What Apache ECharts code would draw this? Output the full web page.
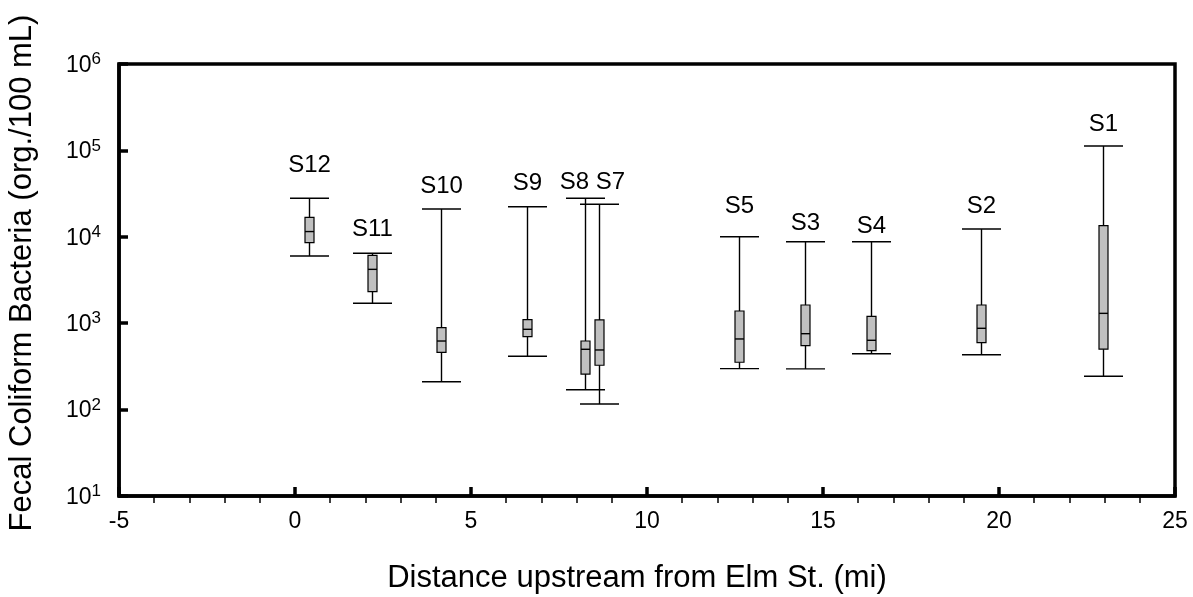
<!DOCTYPE html>
<html>
<head>
<meta charset="utf-8">
<title>Fecal Coliform Bacteria by Station</title>
<script src="https://cdn.jsdelivr.net/npm/echarts@6/dist/echarts.min.js"></script>
<style>
  html, body { margin: 0; padding: 0; background: #fff; }
  #chart { width: 1193px; height: 597px; }
</style>
</head>
<body>
<div id="chart"></div>
<script>
// Sampling stations along the stream, ordered by distance upstream
const stations    = ['S12', 'S11', 'S10', 'S9', 'S8', 'S7', 'S5', 'S3', 'S4', 'S2', 'S1'];
const distanceMi  = [0.4, 2.2, 4.15, 6.6, 8.25, 8.65, 12.6, 14.5, 16.35, 19.5, 22.95];

// Box-plot statistics, org./100 mL
const whiskerLow  = [6000, 1700, 210, 415, 170, 116, 298, 296, 443, 432, 243];
const quartile1   = [8550, 2320, 460, 700, 258, 326, 353, 549, 481, 595, 500];
const median      = [11500, 4200, 622, 850, 499, 490, 657, 756, 634, 873, 1300];
const quartile3   = [16800, 6100, 887, 1100, 622, 1090, 1384, 1625, 1202, 1625, 13450];
const whiskerHigh = [27900, 6440, 21000, 22300, 27900, 23800, 10000, 8780, 8780, 12300, 112500];

// Axis tick values
const xMajorTicks = [-5, 0, 5, 10, 15, 20, 25];
const yTicks      = [10, 100, 1000, 10000, 100000, 1000000];

// Hand placement of station labels relative to the top whisker cap (px)
const labelNudge = {
  S12: [0, -11], S11: [0, -2], S10: [0, -1], S9: [0, -1], S8: [-11, 6], S7: [11, 0],
  S5: [0, -8], S3: [0, 4], S4: [0, 7], S2: [0, -1], S1: [0, 0]
};

const FONT = '"Liberation Sans", Arial, Helvetica, sans-serif';

const boxData = stations.map((s, i) => [
  distanceMi[i], whiskerLow[i], quartile1[i], median[i], quartile3[i], whiskerHigh[i]
]);

const xMinorTicks = [];
for (let v = xMajorTicks[0]; v <= xMajorTicks[xMajorTicks.length - 1]; v++) {
  if (xMajorTicks.indexOf(v) < 0) xMinorTicks.push(v);
}

function renderBox(params, api) {
  const x = api.value(0);
  const pLow = api.coord([x, api.value(1)]);
  const pQ1  = api.coord([x, api.value(2)]);
  const pMed = api.coord([x, api.value(3)]);
  const pQ3  = api.coord([x, api.value(4)]);
  const pHi  = api.coord([x, api.value(5)]);
  const cx = Math.round(pHi[0]) + 0.5;
  const capHalf = 19.5;
  const boxHalf = 4.5;
  const line = { stroke: '#000', lineWidth: 1.4 };
  const name = stations[params.dataIndex];
  const nudge = labelNudge[name] || [0, 0];
  return {
    type: 'group',
    children: [
      { type: 'line', shape: { x1: cx, y1: pHi[1], x2: cx, y2: pLow[1] }, style: line },
      { type: 'line', shape: { x1: cx - capHalf, y1: pHi[1], x2: cx + capHalf, y2: pHi[1] }, style: line },
      { type: 'line', shape: { x1: cx - capHalf, y1: pLow[1], x2: cx + capHalf, y2: pLow[1] }, style: line },
      { type: 'rect',
        shape: { x: cx - boxHalf, y: pQ3[1], width: boxHalf * 2, height: pQ1[1] - pQ3[1] },
        style: { fill: '#c0c0c0', stroke: '#000', lineWidth: 1.2 } },
      { type: 'line', shape: { x1: cx - boxHalf, y1: pMed[1], x2: cx + boxHalf, y2: pMed[1] }, style: line },
      { type: 'text',
        x: cx + nudge[0], y: pHi[1] - 10 + nudge[1],
        style: { text: name, fill: '#000', font: '24px ' + FONT, textAlign: 'center', textVerticalAlign: 'bottom' } }
    ]
  };
}

const chart = echarts.init(document.getElementById('chart'), null, { renderer: 'canvas' });

chart.setOption({
  backgroundColor: '#fff',
  animation: false,
  grid: {
    left: 119, right: 18, top: 64, bottom: 101,
    show: true, borderColor: '#000', borderWidth: 3.5, backgroundColor: 'transparent'
  },
  xAxis: [
    {
      type: 'value', min: xMajorTicks[0], max: xMajorTicks[xMajorTicks.length - 1], interval: 5,
      axisLine: { show: true, onZero: false, lineStyle: { color: '#000', width: 3.5 } },
      axisTick: { show: true, inside: true, length: 9, lineStyle: { color: '#000', width: 3.5 } },
      axisLabel: { color: '#000', fontSize: 23, fontFamily: FONT, margin: 14 },
      splitLine: { show: false }
    },
    {
      type: 'value', min: xMajorTicks[0], max: xMajorTicks[xMajorTicks.length - 1], interval: 1,
      position: 'bottom',
      axisLine: { show: false, onZero: false },
      axisTick: { show: true, inside: false, length: 7, customValues: xMinorTicks,
                  lineStyle: { color: '#000', width: 1.5 } },
      axisLabel: { show: false },
      splitLine: { show: false }
    }
  ],
  yAxis: {
    type: 'log', logBase: 10, min: yTicks[0], max: yTicks[yTicks.length - 1],
    axisLine: { show: true, onZero: false, lineStyle: { color: '#000', width: 3.5 } },
    axisTick: { show: true, inside: true, length: 9, lineStyle: { color: '#000', width: 3.5 } },
    axisLabel: {
      margin: 18,
      formatter: v => '{b|10}{sup|' + Math.round(Math.log10(v)) + '}',
      rich: {
        b:   { fontSize: 23, fontFamily: FONT, color: '#000', lineHeight: 26, verticalAlign: 'bottom' },
        sup: { fontSize: 17, fontFamily: FONT, color: '#000', lineHeight: 20, verticalAlign: 'top' }
      }
    },
    splitLine: { show: false }
  },
  graphic: [
    { type: 'text', x: 22, y: 273, rotation: Math.PI / 2,
      style: { text: 'Fecal Coliform Bacteria (org./100 mL)', font: '31px ' + FONT, fill: '#000',
               textAlign: 'center', textVerticalAlign: 'middle' } },
    { type: 'text', x: 637, y: 578,
      style: { text: 'Distance upstream from Elm St. (mi)', font: '31px ' + FONT, fill: '#000',
               textAlign: 'center', textVerticalAlign: 'middle' } }
  ],
  series: [{
    type: 'custom',
    name: 'Fecal coliform',
    xAxisIndex: 0,
    yAxisIndex: 0,
    renderItem: renderBox,
    encode: { x: 0, y: [1, 2, 3, 4, 5] },
    data: boxData,
    clip: false
  }]
});
</script>
</body>
</html>
